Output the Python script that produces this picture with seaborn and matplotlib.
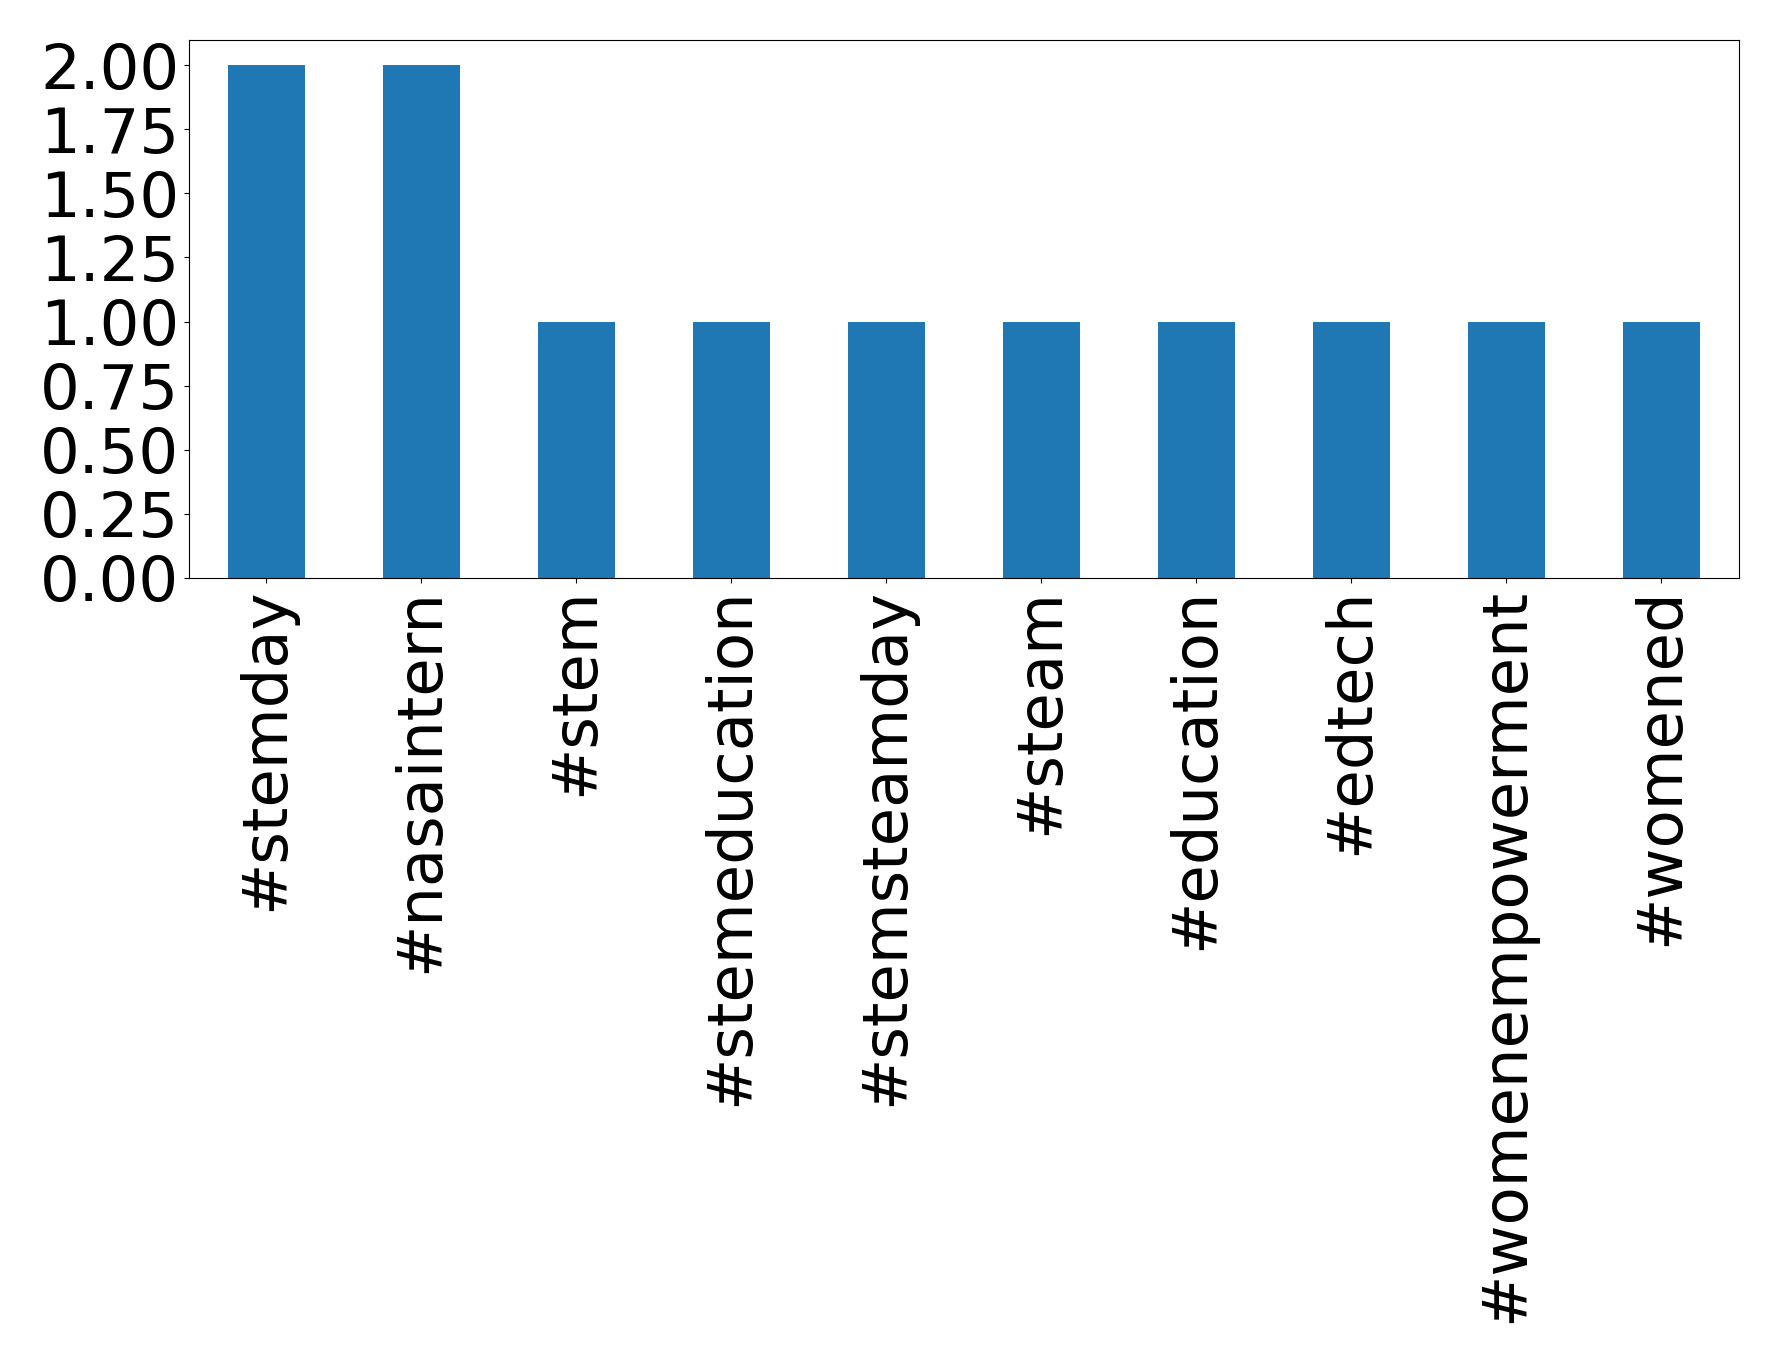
import pandas as pd
import matplotlib
matplotlib.use('Agg')
import matplotlib.pyplot as plt
import seaborn as sns

# hashtag counts
hashtags = ['#stemday', '#nasaintern', '#stem', '#stemeducation', '#stemsteamday',
            '#steam', '#education', '#edtech', '#womenempowerment', '#womened']
counts = [2, 2, 1, 1, 1, 1, 1, 1, 1, 1]

df = pd.DataFrame({'hashtag': hashtags, 'count': counts})

fig, ax = plt.subplots(figsize=(17.78, 13.63), dpi=100)
sns.barplot(data=df, x='hashtag', y='count', color='#1f77b4', saturation=1,
            width=0.5, ax=ax)
ax.set_xlim(-0.5, len(hashtags) - 0.5)
ax.autoscale(axis='y')
ax.margins(y=0.05)
ax.set_ylim(bottom=0)
ax.set_xlabel('')
ax.set_ylabel('')
ax.tick_params(axis='both', labelsize=45)
plt.xticks(rotation=90)
plt.yticks([0, 0.25, 0.5, 0.75, 1.0, 1.25, 1.5, 1.75, 2.0])
ax.yaxis.set_major_formatter(matplotlib.ticker.FormatStrFormatter('%.2f'))
fig.subplots_adjust(left=0.1063, right=0.978, top=0.971, bottom=0.576)
fig.savefig('out.png', dpi=100)
